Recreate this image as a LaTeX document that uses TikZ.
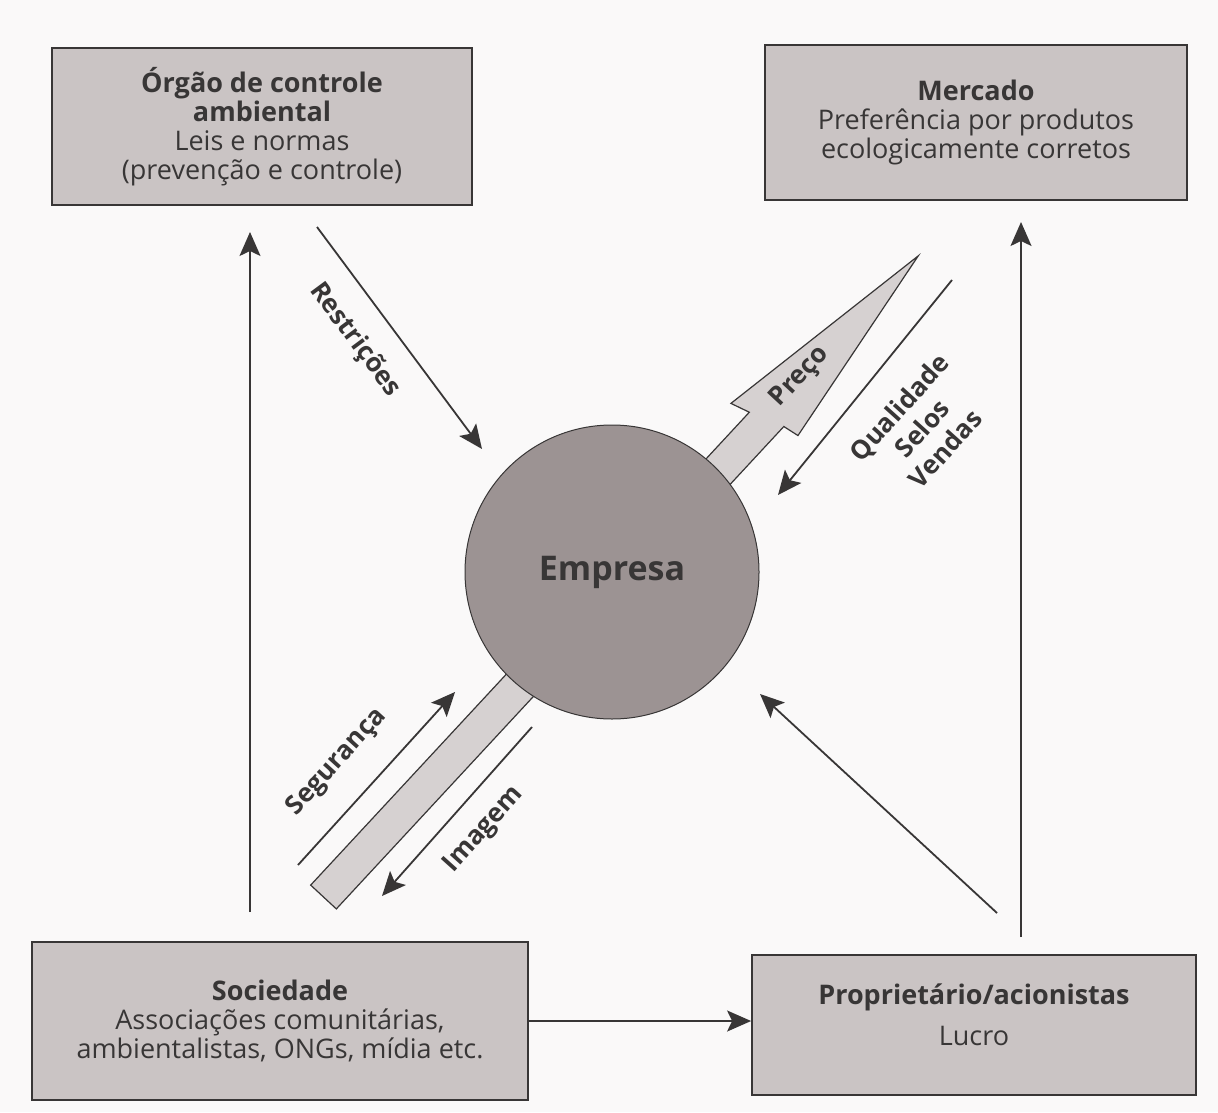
\documentclass[tikz,border=0pt]{standalone}
\usepackage{fontspec}
\setmainfont{Open Sans}
\usetikzlibrary{arrows.meta,positioning,calc}
\definecolor{boxgray}{HTML}{CAC4C4}
\definecolor{discgray}{HTML}{9C9393}
\definecolor{bargray}{HTML}{D6D1D1}
\definecolor{inkgray}{HTML}{383636}
\definecolor{paper}{HTML}{FAF9F9}
\tikzset{>=Stealth}
\tikzset{
  actor/.style={draw=inkgray, line width=0.9pt, fill=boxgray, align=center,
    text=inkgray, font=\fontsize{13.5}{14.6}\selectfont, inner sep=0pt},
  flow/.style={-{Stealth[length=12pt,width=10.5pt,inset=2.5pt]}, draw=inkgray, line width=0.9pt},
  tag/.style={text=inkgray, font=\bfseries\fontsize{13}{15.5}\selectfont, align=center, inner sep=0pt}
}

\begin{document}
\begin{tikzpicture}[x=0.5pt,y=-0.5pt]
    \fill[paper] (0,0) rectangle (1218,1112);
    \useasboundingbox (0,0) rectangle (1218,1112);
    % the four groups round the firm
    \node[actor, minimum width=210pt, minimum height=78.5pt] (orgao) at (262,126.5)
	{\textbf{Órgão de controle}\\\textbf{ambiental}\\Leis e normas\\(prevenção e controle)};
    \node[actor, minimum width=211pt, minimum height=77.5pt] (mercado) at (976,122.5)
	{\textbf{Mercado}\\Preferência por produtos\\ecologicamente corretos};
    \node[actor, minimum width=248pt, minimum height=79pt] (sociedade) at (280,1021)
	{\textbf{Sociedade}\\Associações comunitárias,\\ambientalistas, ONGs, mídia etc.};
    \node[actor, minimum width=222pt, minimum height=70pt] (proprietario) at (974,1025)
	{\textbf{Proprietário/acionistas}\\[6pt]Lucro\\[-4pt]\mbox{}};
    % broad arrow under the firm
    \begin{scope}[shift={(323.5,897)},rotate=47.15]
    \filldraw[fill=bargray, draw=inkgray, line width=0.6pt]
	(0,-17.5) -- (645,-17.5) -- (639,-37) -- (874.5,0) -- (661,34) -- (658,17.5) -- (0,17.5) -- cycle;
    \end{scope}
    \node[circle, draw=inkgray, line width=0.5pt, fill=discgray, minimum size=147pt, inner sep=0pt,
	text=inkgray, font=\bfseries\fontsize{17}{19}\selectfont] (empresa) at (612,572) {Empresa};
    % arrow ends
    \coordinate (socUp) at (250,912);
    \coordinate (orgDown) at (250,232);
    \coordinate (restrA) at (317,227);
    \coordinate (restrB) at (482,449);
    \coordinate (qualA) at (952,280);
    \coordinate (qualB) at (778,495);
    \coordinate (segA) at (298,865);
    \coordinate (segB) at (455,692);
    \coordinate (imgA) at (532,727);
    \coordinate (imgB) at (382,896);
    \coordinate (lucroA) at (997,913);
    \coordinate (lucroB) at (760,694);
    \coordinate (propUp) at (1021,937);
    \coordinate (mercDown) at (1021,222);
    \draw[flow] (socUp) -- (orgDown);
    \draw[flow] (restrA) -- (restrB);
    \draw[flow] (qualA) -- (qualB);
    \draw[flow] (segA) -- (segB);
    \draw[flow] (imgA) -- (imgB);
    \draw[flow] (lucroA) -- (lucroB);
    \draw[flow] (propUp) -- (mercDown);
    \draw[flow] (sociedade.east) -- (sociedade.east -| proprietario.west);
    % labels
    \node[tag, rotate=-53.4] (restr) at (355,340) {Restrições};
    \node[tag, rotate=47.15] (preco) at (800,377) {Preço};
    \node[tag, rotate=48] (quali) at (922,428) {Qualidade\\Selos\\Vendas};
    \node[tag, rotate=47.8] (segur) at (337,762) {Segurança};
    \node[tag, rotate=48] (imag) at (484,830) {Imagem};
\end{tikzpicture}
\end{document}
